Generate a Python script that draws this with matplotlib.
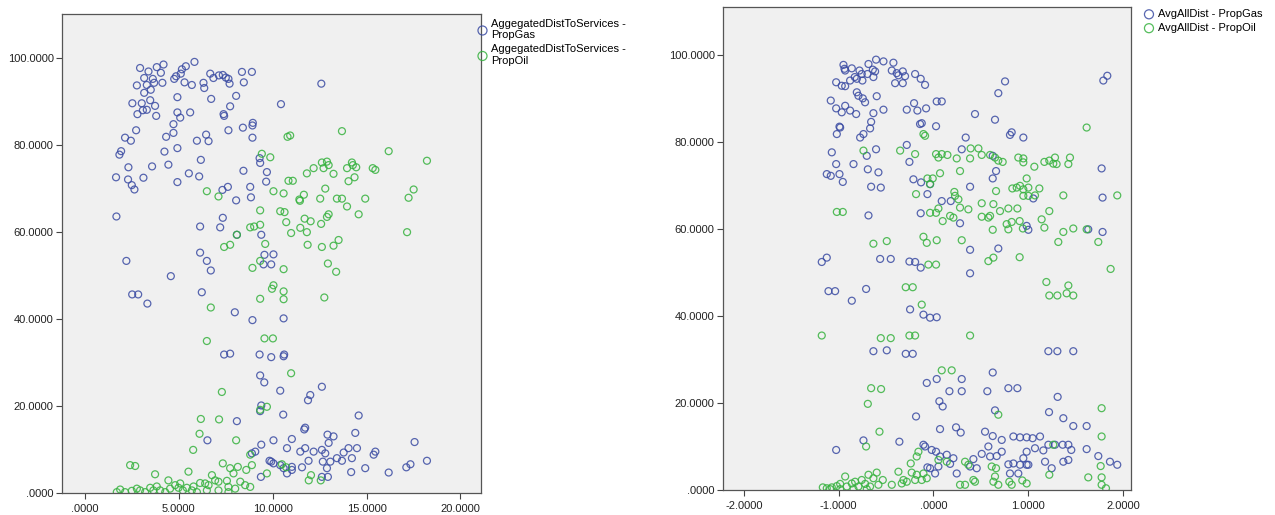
import matplotlib
matplotlib.use("Agg")
import matplotlib.pyplot as plt
from matplotlib.ticker import FuncFormatter

plt.rcParams['font.family'] = ['Liberation Sans', 'DejaVu Sans']

# ---------------- Left panel data: AggegatedDistToServices ----------------
left_gas_x = [2.93, 3.38, 3.82, 4.18, 4.04, 3.61, 3.15, 2.76, 3.29, 3.68, 4.12, 3.15, 3.50, 3.02, 3.47,
              2.52, 3.08, 2.79, 3.73, 3.79, 3.29, 2.72, 2.13, 2.44, 1.83, 1.92, 2.31, 1.65, 2.29, 2.49,
              2.63, 3.11, 3.57, 1.67, 4.32, 4.23, 4.44, 4.92, 4.71, 4.71, 5.07, 4.92, 4.75, 4.85, 5.16,
              5.37, 5.10, 5.30, 5.83, 5.69, 5.60, 4.92, 4.92, 5.96, 6.17, 6.08, 5.53, 6.31, 6.35, 6.58,
              6.45, 6.72, 6.67, 6.84, 7.13, 7.34, 7.50, 7.64, 7.70, 8.05, 7.73, 7.38, 7.41, 7.64, 7.61,
              7.32, 8.05, 8.36, 8.46, 8.41, 8.44, 8.80, 8.84, 8.89, 8.92, 8.92, 8.94, 9.33, 9.30, 9.69,
              9.65, 10.44, 12.59, 6.13, 7.20, 7.34, 8.09, 6.13, 6.49, 6.70, 6.22, 4.57, 2.20, 2.51, 2.83,
              3.32, 7.98, 8.92, 9.39, 9.56, 9.51, 9.92, 10.04, 10.58, 10.58, 10.61, 9.92, 9.30, 7.73, 7.41,
              9.33, 9.55, 10.40, 10.56, 9.39, 9.33, 11.88, 12.00, 12.62, 8.09, 6.52, 11.02, 11.68, 11.73,
              10.04, 9.39, 10.76, 11.47, 11.73, 12.18, 12.62, 12.80, 12.98, 12.92, 13.24, 14.40, 14.58,
              13.78, 14.04, 14.49, 14.22, 15.38, 15.47, 17.56, 18.22, 17.34, 17.12, 16.18, 14.93, 14.18,
              13.69, 13.42, 13.07, 12.89, 12.67, 12.62, 12.94, 11.91, 11.56, 11.02, 10.76, 10.58, 10.04,
              9.83, 9.07, 8.89, 9.37, 9.92, 10.40, 11.02]
left_gas_y = [97.6, 96.8, 97.8, 98.4, 96.5, 95.1, 95.3, 93.6, 93.7, 94.2, 94.2, 91.9, 92.6, 89.5, 90.2,
              89.5, 87.9, 87.0, 88.9, 86.6, 88.0, 83.3, 81.6, 80.9, 77.7, 78.5, 74.8, 72.5, 72.0, 70.7,
              69.7, 72.4, 75.0, 63.5, 81.8, 78.4, 75.4, 71.4, 82.7, 84.7, 86.2, 90.9, 95.1, 95.7, 97.3,
              98.0, 96.3, 94.3, 99.0, 93.7, 87.4, 87.4, 79.2, 80.9, 76.5, 72.7, 73.4, 94.2, 93.0, 80.8,
              82.3, 90.5, 96.3, 95.3, 95.9, 96.0, 95.4, 95.1, 94.0, 91.2, 88.8, 87.0, 86.6, 83.3, 70.3,
              69.6, 67.2, 96.7, 94.3, 83.9, 74.0, 70.3, 67.9, 96.7, 84.4, 81.6, 85.0, 75.8, 76.9, 73.7,
              71.5, 89.3, 94.0, 61.2, 61.0, 63.2, 59.3, 55.2, 53.3, 51.1, 46.1, 49.8, 53.3, 45.6, 45.6,
              43.5, 41.5, 39.7, 59.3, 54.7, 52.5, 52.5, 54.8, 40.1, 31.4, 31.8, 31.2, 31.8, 32.0, 31.8,
              27.0, 25.4, 23.5, 18.0, 20.1, 18.8, 21.3, 22.5, 24.4, 16.5, 12.1, 12.4, 14.6, 15.0,
              12.1, 11.1, 10.3, 9.5, 10.3, 9.5, 9.9, 9.1, 11.5, 13.4, 13.0, 13.8, 17.8,
              9.3, 10.3, 10.3, 8.0, 8.8, 9.5, 11.7, 7.4, 6.6, 5.9, 4.7, 5.7, 4.8,
              7.4, 8.0, 7.2, 5.7, 7.2, 3.7, 3.7, 7.4, 5.9, 5.3, 4.5, 5.7, 6.8,
              7.4, 9.5, 9.1, 3.7, 7.2, 6.4, 6.0]

left_oil_x = [10.79, 10.93, 9.42, 9.87, 13.69, 16.18, 18.22, 12.62, 12.89, 12.98, 12.71, 14.22, 14.27,
              13.96, 14.45, 15.33, 15.47, 12.18, 11.82, 13.24, 14.36, 14.04, 10.84, 11.07, 10.04, 10.58,
              11.66, 12.80, 13.42, 13.69, 14.93, 13.96, 12.53, 11.45, 11.42, 9.33, 10.40, 10.63, 10.72,
              10.98, 11.70, 12.02, 12.58, 12.89, 12.98, 14.58, 11.47, 11.82, 17.16, 17.24, 17.51, 7.11,
              6.49, 8.09, 7.73, 7.41, 8.80, 9.01, 9.33, 9.60, 10.58, 8.92, 9.33, 13.51, 13.24, 12.62,
              11.86, 12.94, 13.38, 12.75, 9.33, 9.96, 10.04, 10.58, 10.58, 6.70, 6.49, 9.56, 10.01,
              10.98, 7.29, 9.69, 9.33, 6.17, 7.14, 6.10, 8.05, 5.76, 2.40, 2.67, 5.51, 7.34, 8.80, 8.89,
              7.73, 7.91, 8.14, 8.59, 9.69, 10.49, 10.72, 11.92, 12.56, 12.04, 3.73, 4.44, 6.76, 6.93,
              6.13, 6.40, 6.58, 7.11, 7.56, 7.64, 8.27, 8.53, 8.80, 8.00, 1.69, 1.87, 2.13, 2.49, 2.76,
              2.93, 3.20, 3.47, 3.64, 3.82, 4.00, 4.27, 4.53, 4.80, 4.98, 5.07, 5.21, 5.42, 5.69, 5.96,
              5.78, 7.11, 6.49, 7.64]
left_oil_y = [81.8, 82.1, 77.9, 77.1, 83.1, 78.5, 76.3, 75.9, 76.1, 75.3, 74.6, 75.9, 75.3,
              74.6, 74.8, 74.6, 74.2, 74.6, 73.4, 73.3, 72.5, 71.6, 71.7, 71.7, 69.3, 68.8,
              68.5, 69.9, 67.6, 67.6, 67.6, 65.8, 67.6, 67.1, 67.4, 64.9, 64.7, 64.5, 62.2,
              59.7, 63.0, 62.4, 61.8, 63.4, 64.0, 64.0, 60.9, 59.9, 59.9, 67.8, 69.7, 68.1,
              69.3, 59.3, 57.0, 56.5, 61.0, 61.2, 61.6, 57.2, 51.4, 51.7, 53.3, 58.1, 56.8, 56.5,
              57.0, 52.7, 50.8, 44.9, 44.6, 46.9, 47.7, 46.3, 44.5, 42.6, 34.9, 35.5, 35.5,
              27.5, 23.2, 19.8, 19.1, 17.0, 16.9, 13.6, 12.1, 9.9, 6.4, 6.2, 4.9, 6.8, 8.8, 6.4,
              5.7, 4.5, 6.0, 5.3, 4.5, 6.6, 5.9, 2.9, 2.9, 4.1, 4.3, 2.9, 4.1, 2.9,
              2.3, 2.2, 1.8, 2.6, 2.8, 1.4, 2.6, 1.8, 1.4, 1.0, 0.2, 0.8, 0.2, 0.5, 1.0,
              0.6, 0.2, 1.2, 0.6, 1.5, 0.6, 0.2, 1.0, 1.8, 1.2, 2.2, 0.6, 1.2, 0.6, 0.2,
              1.5, 0.6, 0.6, 0.2]

# ---------------- Right panel data: AvgAllDist ----------------
right_gas_x = [-0.949, -0.938, -0.931, -0.861, -0.780, -0.756, -0.830, -0.879, -0.808, -0.749, -0.696,
               -0.685, -0.639, -0.615, -0.605, -0.527, -0.633, -1.026, -0.967, -0.931, -0.808, -0.791,
               -0.745, -0.721, -0.598, -1.083, -1.026, -0.931, -0.967, -0.879, -0.815, -0.633, -0.527,
               -0.657, -0.668, -0.984, -0.991, -1.019, -0.773, -0.738, -1.072, -1.026, -1.125, -1.083,
               -0.991, -0.956, -0.843, -0.692, -0.703, -0.605, -0.580, -0.657, -0.555, -0.685, -0.422,
               -0.439, -0.387, -0.323, -0.299, -0.369, -0.404, -0.323, -0.193, -0.134, -0.088, -0.281,
               -0.204, -0.169, -0.077, -0.141, -0.123, 0.028, 0.035, 0.088, -0.281, -0.253, -0.211,
               -0.130, -0.035, -0.063, -0.134, 0.088, 0.183, 0.281, 0.299, 0.341, 0.439, 0.387, 0.685,
               0.756, 0.650, 0.626, 0.661, 0.626, 0.808, 0.826, 0.949, 1.054, 0.984, 1.002, 0.685,
               0.387, 0.387, 1.775, 1.785, 1.785, 1.634, 1.793, 1.835, -1.178, -1.125, -1.107, -1.037,
               -0.861, -0.710, -0.562, -0.450, -0.253, -0.193, -0.134, -0.246, -0.105, -0.035, 0.035,
               -0.633, -0.492, -0.292, -0.218, 1.213, 1.308, 1.476, -0.070, 0.035, 0.169, 0.299, 0.299,
               0.569, 0.791, 0.886, 0.626, 1.311, 1.220, 1.371, 1.476, 1.617, 0.063, 0.098, -0.183,
               0.650, 0.070, 0.239, 0.288, 0.545, 0.626, 0.721, 0.844, 0.914, 0.984, 1.047, 1.125,
               1.213, 1.283, 1.364, 1.424, 1.455, 1.617, 1.740, 1.863, 1.940, 1.424, 1.371, 1.178,
               1.160, 1.072, 0.984, 0.949, 0.914, 0.984, 0.844, 0.791, 0.808, 0.896, 0.721, 0.668,
               0.598, 0.580, 0.510, 0.422, 0.387, 0.457, 0.211, 0.176, 0.141, 0.070, 0.053, 0.018,
               -0.035, -0.063, -0.105, -0.088, -0.018, 0.028, 0.246, 1.248, 1.002, -1.026, -0.738,
               -0.359]
right_gas_y = [97.7, 96.8, 96.4, 96.9, 96.4, 95.6, 94.9, 94.1, 94.5, 94.1, 95.6,
               97.9, 96.6, 96.2, 98.9, 98.5, 94.9, 93.7, 92.9, 92.8, 91.4, 90.6,
               90.0, 89.1, 90.5, 89.5, 87.7, 88.3, 86.8, 87.2, 86.4, 86.6, 87.4,
               84.6, 83.1, 83.3, 83.5, 81.8, 81.0, 81.8, 77.6, 74.9, 72.6, 72.2,
               72.6, 70.8, 74.9, 73.7, 76.8, 78.3, 73.0, 69.7, 69.5, 63.1, 98.2,
               96.4, 95.8, 96.2, 95.1, 95.3, 93.5, 93.5, 95.6, 94.5, 93.1, 87.4,
               88.9, 87.2, 87.7, 84.1, 84.3, 83.6, 89.3, 89.3, 79.3, 75.4, 71.4,
               70.7, 70.3, 68.0, 63.6, 66.4, 66.4, 61.3, 78.3, 81.0, 86.4, 69.7, 91.2,
               93.9, 85.1, 76.8, 73.3, 71.6, 81.6, 82.2, 81.0, 67.0, 60.7, 59.8, 55.5,
               55.2, 49.8, 73.9, 67.2, 59.3, 59.9, 94.1, 95.2, 52.4, 53.4, 45.7, 45.7,
               43.5, 46.2, 53.1, 53.1, 52.5, 52.4, 51.1, 41.5, 40.3, 39.6, 39.7,
               31.9, 32.1, 31.3, 31.3, 31.9, 31.9, 31.9, 24.6, 25.5, 22.7, 22.7, 25.5,
               22.7, 23.4, 23.4, 27.0, 21.4, 17.9, 16.5, 14.7, 14.7, 20.4, 19.2, 16.9,
               18.3, 14.0, 14.4, 13.2, 13.4, 12.4, 11.5, 12.3, 12.1, 12.1, 11.9, 12.3,
               10.4, 10.4, 10.4, 10.4, 9.2, 9.4, 7.8, 6.5, 5.8, 6.9, 6.5, 6.5,
               9.1, 9.6, 8.8, 7.3, 5.8, 5.8, 6.1, 5.9, 3.8, 3.8, 8.8, 7.8,
               7.7, 10.0, 8.3, 7.1, 5.4, 5.0, 7.3, 6.0, 8.1, 7.7, 5.4, 3.8,
               5.0, 5.2, 10.4, 10.0, 9.2, 8.8, 3.8, 5.0, 5.8, 9.2, 11.4,
               11.1]

right_oil_x = [1.617, -0.105, -0.088, -0.351, -0.738, -0.193, 0.028, 0.053, 0.088, 0.148, 0.246, 0.281,
               0.070, 0.393, 0.475, 0.387, 0.510, 0.598, 0.650, 0.685, 0.731, 0.896, 0.949, 0.949,
               1.065, 1.171, 1.223, 1.265, 1.300, 1.283, 1.441, 1.424, -0.183, -0.063, -0.007, -0.035,
               0.221, 0.228, 0.264, 0.369, 0.510, 0.633, 0.661, 0.703, 0.791, 0.886, 0.833, 0.879,
               0.914, 0.949, 0.984, 1.002, 0.949, 1.002, 1.072, 1.118, 1.371, 1.940, 1.223, 1.142,
               1.171, 1.476, 1.371, 1.617, 1.740, 1.870, 1.318, 0.944, 0.910, 0.826, 0.773, 0.791,
               0.626, 0.580, 0.598, 0.510, 0.211, 0.176, 0.098, 0.053, 0.028, -0.035, 0.281, 0.299,
               -0.105, -0.070, 0.035, -0.633, -0.492, -1.019, -0.956, -0.053, 0.028, 0.580, 0.633,
               0.910, 1.192, 1.223, 1.308, 1.406, 1.424, 1.476, -0.292, -0.218, -0.123, -1.178,
               -0.555, -0.450, -0.253, -0.193, 0.387, 0.088, 0.193, -0.657, -0.552, -0.692, 0.685,
               1.775, 1.775, -0.569, -0.710, -0.176, -0.239, -0.158, -0.229, -0.176, -0.105, -0.123,
               -0.070, -0.193, 0.053, 0.141, 0.334, 0.369, 0.422, 0.439, 0.281, 0.334, 0.615, 0.661,
               0.650, 0.633, 0.685, 0.801, 0.826, 0.938, 0.984, 1.223, 1.265, 1.634, 1.775, 1.765,
               1.821, 1.775, -1.167, -1.125, -1.072, -1.019, -0.984, -0.931, -0.914, -0.861, -0.826,
               -0.791, -0.756, -0.720, -0.685, -0.668, -0.633, -0.598, -0.580, -0.534, -0.439, -0.369,
               -0.334, -0.281, -0.316, -1.090, -0.984, -0.843, -0.703]
right_oil_y = [83.3, 81.8, 81.4, 78.0, 78.0, 77.2, 77.2, 76.4, 77.2, 77.0, 76.2, 73.3,
               72.8, 78.5, 78.5, 76.2, 77.0, 77.0, 76.4, 75.7, 75.4, 76.4, 76.2, 75.3,
               74.3, 75.4, 75.7, 75.0, 74.9, 76.4, 76.4, 74.9, 68.0, 71.6, 71.6, 70.3,
               68.5, 67.6, 66.8, 64.5, 65.9, 65.7, 68.7, 64.1, 64.7, 64.7, 69.3, 69.5,
               69.9, 69.1, 71.6, 69.5, 67.6, 67.6, 67.7, 69.3, 67.7, 67.7, 64.1, 62.2,
               60.3, 60.1, 59.3, 59.9, 57.0, 50.8, 57.0, 60.1, 61.8, 61.6, 61.1, 59.9,
               59.8, 62.6, 63.0, 62.8, 62.6, 63.0, 61.8, 64.7, 63.7, 63.7, 64.9, 57.4,
               58.2, 56.8, 57.4, 56.6, 57.2, 63.9, 63.9, 51.8, 51.8, 52.6, 53.4,
               53.5, 47.8, 44.7, 44.7, 45.2, 47.0, 44.7, 46.6, 46.6, 42.6, 35.5,
               34.9, 34.9, 35.5, 35.5, 35.5, 27.5, 27.5, 23.4, 23.2, 19.8, 17.3,
               18.8, 12.3, 13.4, 10.0, 7.7, 6.1, 8.8, 4.0, 3.5, 3.8, 2.3,
               2.7, 2.3, 6.9, 6.5, 6.5, 5.8, 2.3, 1.9, 1.2, 1.2, 5.4, 5.0,
               3.1, 1.9, 1.2, 1.9, 1.2, 2.2, 1.5, 3.5, 10.4, 2.9, 2.9, 5.5,
               0.4, 1.2, 0.6, 0.4, 0.6, 0.9, 1.4, 3.1, 0.8, 1.5, 1.9,
               0.8, 2.3, 1.4, 3.5, 0.8, 2.7, 4.0, 1.2, 2.3, 1.2, 4.2,
               1.5, 1.9, 2.3, 0.2, 0.2, 0.2, 0.2]

left_labels = ['AggegatedDistToServices -\nPropGas', 'AggegatedDistToServices -\nPropOil']
right_labels = ['AvgAllDist - PropGas', 'AvgAllDist - PropOil']
left_xticks = [0, 5, 10, 15, 20]
right_xticks = [-2, -1, 0, 1, 2]
yticks = [0, 20, 40, 60, 80, 100]

BLUE = '#3b4ca3'
GREEN = '#37b23f'
BG = '#f0f0f0'


def spss_fmt(v, pos=None):
    s = f"{v:.4f}"
    if s.startswith('0.'):
        s = s[1:]
    elif s.startswith('-0.'):
        s = '-' + s[2:]
    return s


def style(ax, xlim, ylim, xticks):
    ax.set_facecolor(BG)
    ax.set_xlim(*xlim)
    ax.set_ylim(*ylim)
    ax.set_xticks(xticks)
    ax.set_yticks(yticks)
    ax.xaxis.set_major_formatter(FuncFormatter(spss_fmt))
    ax.yaxis.set_major_formatter(FuncFormatter(spss_fmt))
    ax.tick_params(axis='both', labelsize=8, length=4, width=0.8, color='#444444',
                   labelcolor='#222222', pad=2)
    ax.tick_params(axis='x', pad=4)
    for sp in ax.spines.values():
        sp.set_color('#555555')
        sp.set_linewidth(0.9)


fig = plt.figure(figsize=(12.75, 5.15), dpi=100)
ax1 = fig.add_axes([62 / 1275, 1 - 493 / 515, (481 - 62) / 1275, (493 - 14) / 515])
ax2 = fig.add_axes([723 / 1275, 1 - 490 / 515, (1131 - 723) / 1275, (490 - 7) / 515])

mk = dict(marker='o', s=25, facecolors='none', linewidths=0.9, alpha=0.85)
ax1.scatter(left_gas_x, left_gas_y, edgecolors=BLUE, label=left_labels[0], **mk)
ax1.scatter(left_oil_x, left_oil_y, edgecolors=GREEN, label=left_labels[1], **mk)
style(ax1, (-1.23, 21.1), (0, 110), left_xticks)

ax2.scatter(right_gas_x, right_gas_y, edgecolors=BLUE, label=right_labels[0], **mk)
ax2.scatter(right_oil_x, right_oil_y, edgecolors=GREEN, label=right_labels[1], **mk)
style(ax2, (-2.22, 2.085), (0, 111), right_xticks)

leg_kw = dict(loc='upper left', frameon=False, fontsize=8, handletextpad=0.3,
              borderaxespad=0.0, labelspacing=0.35, handlelength=1.0, borderpad=0.2,
              markerscale=1.3)
ax1.legend(bbox_to_anchor=(0.985, 0.995), **leg_kw)
ax2.legend(bbox_to_anchor=(1.025, 1.0), **leg_kw)

fig.savefig('out.png', dpi=100, facecolor='white')
